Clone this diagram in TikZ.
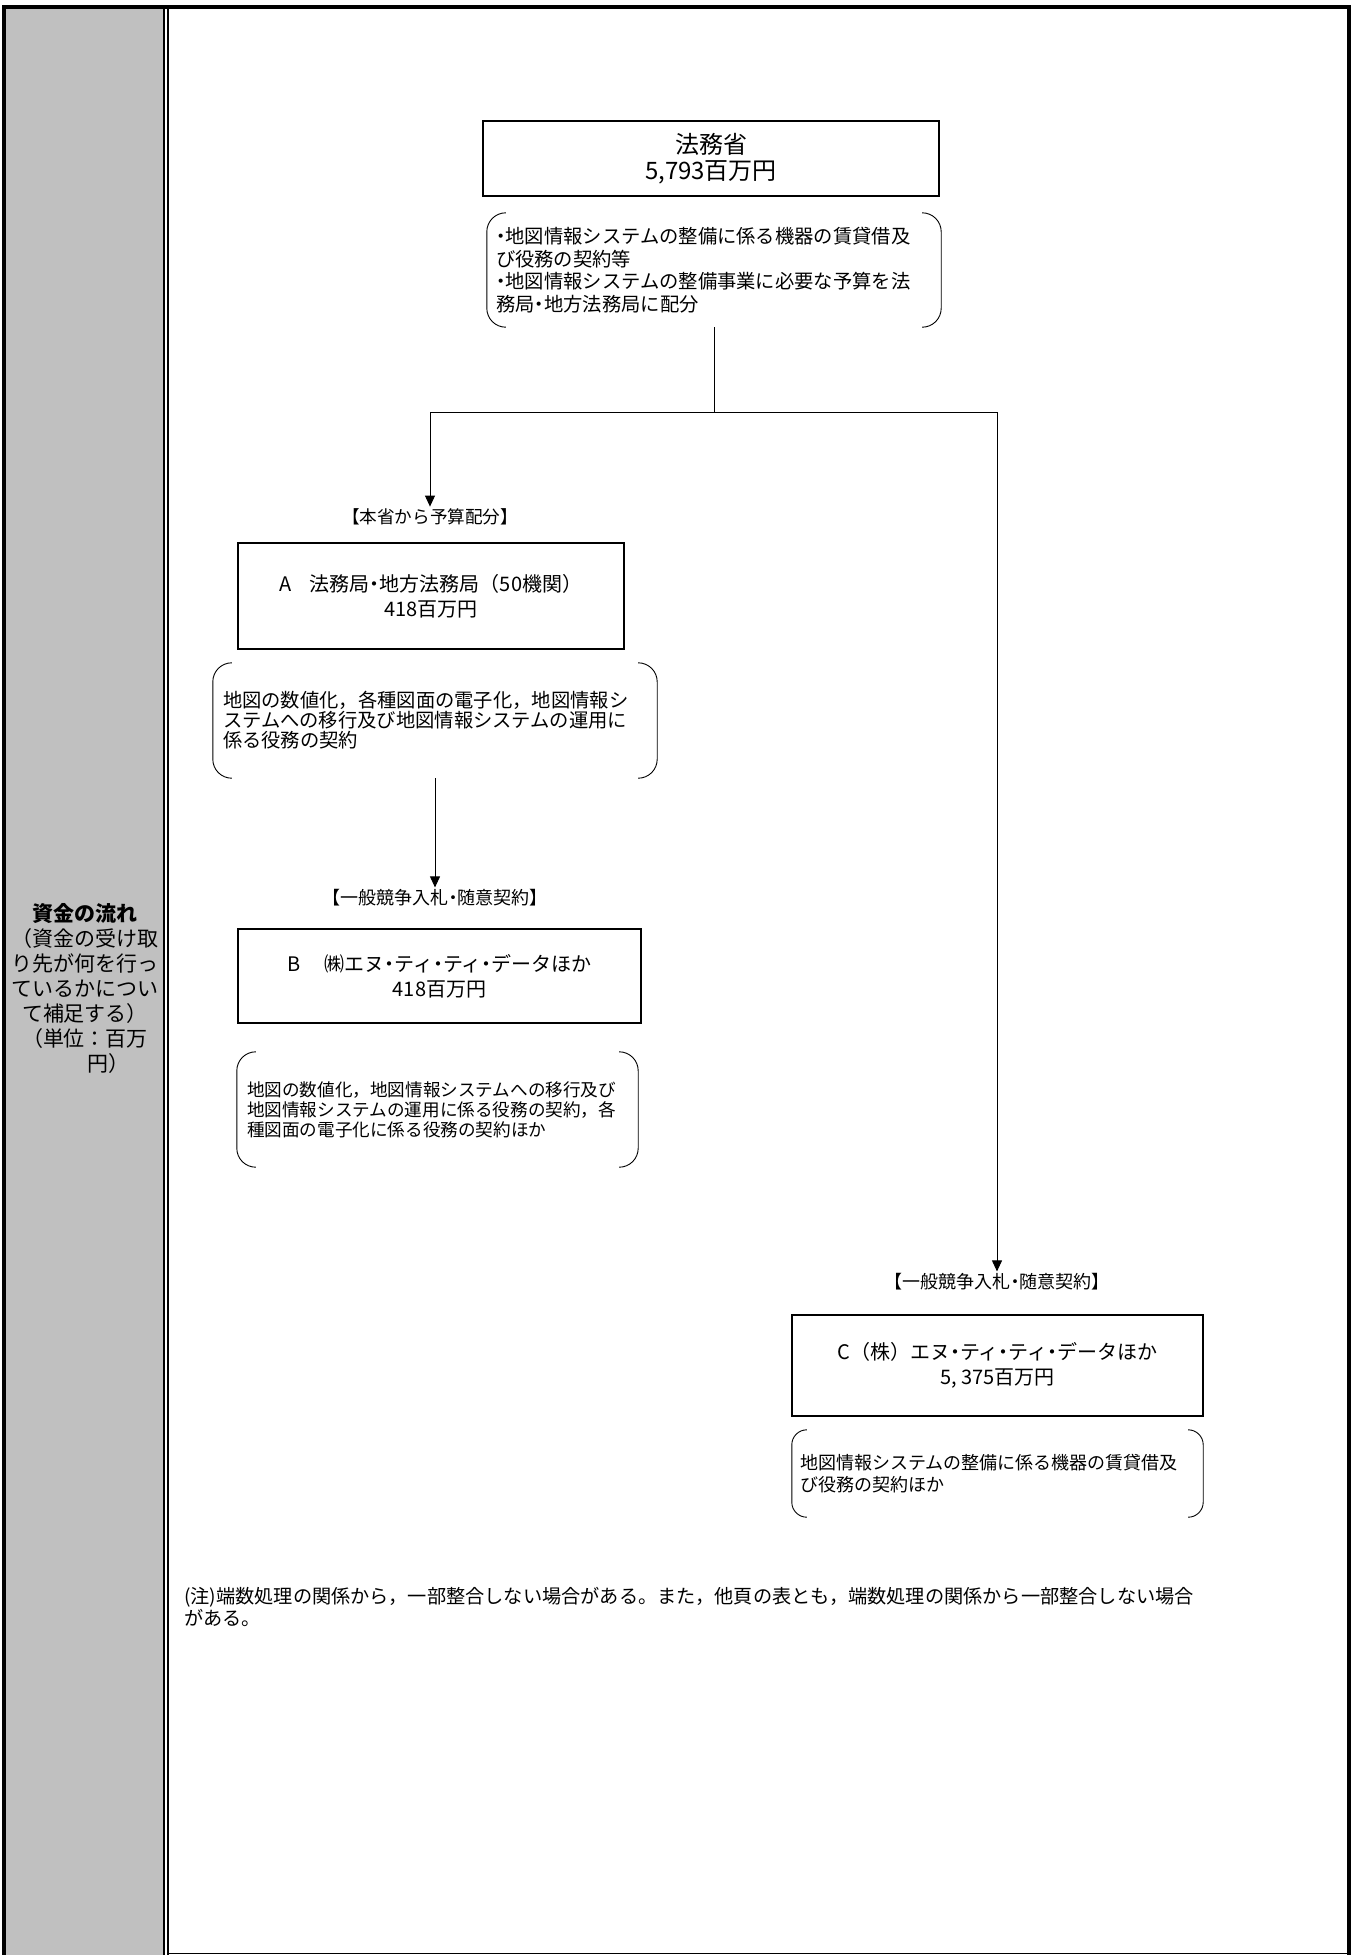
\documentclass[tikz,border=0pt]{standalone}
\usepackage{fontspec}
\setmainfont{Noto Sans CJK JP}
\usetikzlibrary{arrows.meta}
\definecolor{cellgray}{RGB}{192,192,192}
% narrow middle dot
\newcommand{\nk}{{\addfontfeature{RawFeature=+palt}・}}
% corner brackets round a note node
\newcommand{\bracketpair}[2]{%
  \draw [wire, rounded corners=#2] ([xshift=#2]#1.north west) -- (#1.north west) -- (#1.south west) -- ([xshift=#2]#1.south west);
  \draw [wire, rounded corners=#2] ([xshift=-#2]#1.north east) -- (#1.north east) -- (#1.south east) -- ([xshift=-#2]#1.south east);
}
\tikzset{
  wire/.style={line width=0.9pt},
  flow/.style={wire, -{Triangle[width=10pt,length=11pt]}},
  fundbox/.style={draw, line width=1.1pt, align=center, font=\fontsize{20}{25}\selectfont},
  notebox/.style={align=left, inner ysep=0pt},
  routelabel/.style={font=\fontsize{18}{20}\selectfont, inner sep=2pt},
}
\begin{document}
\begin{tikzpicture}[x=1pt,y=-1pt]
  \useasboundingbox (0,0) rectangle (1351,1955);
  % Table frame
  \fill [cellgray] (6,9) rectangle (163,1955);
  \draw [line width=4pt] (4,1955) -- (4,7) -- (1349,7) -- (1349,1955);
  \draw [line width=2pt] (164,9) -- (164,1955);
  \draw [line width=2.4pt] (168,9) -- (168,1955);
  \draw [line width=1pt] (169,1953.5) -- (1347,1953.5);
  % Row heading
  \node (fundlabel) [font=\fontsize{21}{25}\selectfont, align=center] at (85,988)
    {\textbf{資金の流れ}\\（資金の受け取\\り先が何を行っ\\ているかについ\\て補足する）\\（単位：百万\\\hspace*{2.2em}円）};
  % Ministry
  \node (moj) [fundbox, font=\fontsize{24}{26}\selectfont, minimum width=456pt, minimum height=75pt] at (711,158.5) {法務省\\5,793百万円};
  \node (mojnote) [notebox, font=\fontsize{19.3}{22.5}\selectfont, text width=436pt, inner xsep=9pt, minimum height=114pt] at (714,270)
    {\nk 地図情報システムの整備に係る機器の賃貸借及\\び役務の契約等\\\nk 地図情報システムの整備事業に必要な予算を法\\務局\nk 地方法務局に配分};
  \bracketpair{mojnote}{19pt}
  \coordinate (split) at (714,412);
  % Bureaus
  \node (lblA) [routelabel, font=\fontsize{17.6}{20}\selectfont] at (430,517) {【本省から予算配分】};
  \node (bureau) [fundbox, minimum width=386pt, minimum height=106pt] at (431,596) {A\hspace{.9em}法務局\nk 地方法務局（50機関）\\418百万円};
  \node (bureaunote) [notebox, font=\fontsize{19.3}{20}\selectfont, text width=424pt, inner xsep=10pt, minimum height=115pt] at (435,720.5)
    {地図の数値化，各種図面の電子化，地図情報シ\\ステムへの移行及び地図情報システムの運用に\\係る役務の契約};
  \bracketpair{bureaunote}{19pt}
  % Contractor B
  \node (lblB) [routelabel] at (435,898) {【一般競争入札\nk 随意契約】};
  \node (vendorB) [fundbox, minimum width=403pt, minimum height=94pt] at (439.5,976) {B\hspace{1.2em}㈱エヌ\nk ティ\nk ティ\nk データほか\\418百万円};
  \node (vendorBnote) [notebox, font=\fontsize{17.6}{20}\selectfont, text width=381pt, inner xsep=10pt, minimum height=115pt] at (437.5,1109.5)
    {地図の数値化，地図情報システムへの移行及び\\地図情報システムの運用に係る役務の契約，各\\種図面の電子化に係る役務の契約ほか};
  \bracketpair{vendorBnote}{19pt}
  % Contractor C
  \node (lblC) [routelabel] at (997,1282) {【一般競争入札\nk 随意契約】};
  \node (vendorC) [fundbox, minimum width=411pt, minimum height=101pt] at (997.5,1365.5) {C（株）エヌ\nk ティ\nk ティ\nk データほか\\5, 375百万円};
  \node (vendorCnote) [notebox, font=\fontsize{18}{22}\selectfont, text width=395pt, inner xsep=8pt, minimum height=87pt] at (997.5,1473.5)
    {地図情報システムの整備に係る機器の賃貸借及\\び役務の契約ほか};
  \bracketpair{vendorCnote}{15pt}
  % Flows
  \draw [wire] (mojnote.south) -- (split);
  \draw [flow] (split) -| (lblA.north);
  \draw [flow] (split) -| (lblC.north);
  \draw [flow] (bureaunote.south) -- (lblB.north);
  % Footnote
  \node (remark) [anchor=north west, align=left, font=\fontsize{19.2}{22}\selectfont, inner sep=0pt] at (184,1587)
    {(注)端数処理の関係から，一部整合しない場合がある。また，他頁の表とも，端数処理の関係から一部整合しない場合\\がある。};
\end{tikzpicture}
\end{document}
